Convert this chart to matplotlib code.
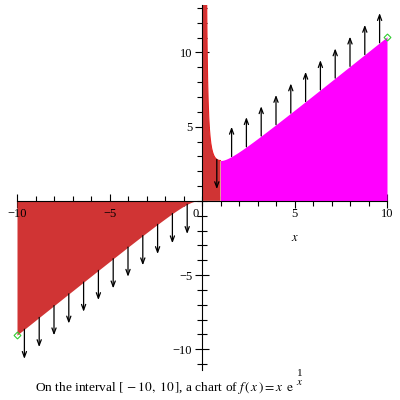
import numpy as np
import matplotlib
matplotlib.use('Agg')
import matplotlib.pyplot as plt

# chart of f(x) = x*exp(1/x) on [-10, 10]
x_min, x_max = -10, 10
split_x = 1.0          # red part ends, magenta part starts
arrow_x = [-9.6, -8.8, -8.0, -7.2, -6.4, -5.6, -4.8, -4.0, -3.2, -2.4, -1.6, -0.8,
           0.8, 1.6, 2.4, 3.2, 4.0, 4.8, 5.6, 6.4, 7.2, 8.0, 8.8, 9.6]
arrow_dir = [-1] * 13 + [1] * 11
arrow_len = 2.0
x_ticks = [-10, -5, 5, 10]
x_labels = ['\u221210', '\u22125', '5', '10']
y_ticks = [-10, -5, 5, 10]
y_labels = ['\u221210', '\u22125', '5', '10']


def f(x):
    return x * np.exp(1.0 / x)


plt.rcParams['font.family'] = ['Liberation Serif', 'DejaVu Serif']
plt.rcParams['mathtext.fontset'] = 'stix'

fig = plt.figure(figsize=(4, 4), dpi=100)
ax = fig.add_axes([17 / 400, 30 / 400, 370 / 400, 365 / 400])
ax.set_xlim(x_min, x_max)
ax.set_ylim(-11.4, 13.2)

red = '#d03434'
mag = '#ff00ff'

xl = np.linspace(x_min, -0.001, 400)
ax.fill_between(xl, f(xl), 0, color=red, lw=0, zorder=3)
xr = np.concatenate([[0.0], np.linspace(0.12, split_x, 300)])
yr = np.concatenate([[600.0], f(xr[1:])])
ax.fill_between(xr, yr, 0, color=red, lw=0, zorder=3)
ax.plot(xr[1:], yr[1:], color='#e82020', lw=0.8, zorder=3)
xm = np.linspace(split_x, x_max, 300)
ax.fill_between(xm, f(xm), 0, color=mag, lw=0, zorder=3)

for xa, d in zip(arrow_x, arrow_dir):
    y0 = f(xa)
    ax.annotate('', xy=(xa, y0 + d * arrow_len), xytext=(xa, y0),
                arrowprops=dict(arrowstyle='->,head_length=0.4,head_width=0.15',
                                color='black', lw=0.9, shrinkA=0, shrinkB=0),
                zorder=5)

ax.plot([x_min, x_max], [f(x_min), f(x_max)], linestyle='none', marker='D',
        markersize=3.5, markerfacecolor='none', markeredgecolor='#33cc33',
        markeredgewidth=0.8, zorder=6, clip_on=False)

# axes through the origin
for s in ['top', 'right']:
    ax.spines[s].set_visible(False)
ax.spines['left'].set_position(('data', 0))
ax.spines['bottom'].set_position(('data', 0))
ax.spines['left'].set_zorder(4)
ax.spines['bottom'].set_zorder(4)
ax.set_xticks(x_ticks)
ax.set_xticklabels([])
ax.set_yticks(y_ticks)
ax.set_yticklabels(y_labels)
ax.set_xticks(np.arange(-10, 11, 1), minor=True)
ax.set_yticks(np.arange(-11, 14, 1), minor=True)
ax.tick_params(which='major', direction='inout', length=10, width=0.8,
               labelsize=9, pad=2)
ax.tick_params(which='minor', direction='inout', length=7, width=0.8)
for xt, lab in zip(x_ticks, x_labels):
    ax.text(xt, -0.45, lab, ha='center', va='top', fontsize=9, zorder=7,
            clip_on=False)
ax.text(-0.35, -0.45, '0', ha='center', va='top', fontsize=9, zorder=7)
ax.text(5, -2.1, '$x$', ha='center', va='top', fontsize=9)

# caption with a stacked 1/x exponent
cap = fig.text(35 / 400, 9 / 400,
               r'On the interval $[\,-10,\ 10\,]$, a chart of $f\,(\,x\,) = x\ \,\mathrm{e}$',
               ha='left', va='baseline', fontsize=9.6)
fig.canvas.draw()
bb = cap.get_window_extent(fig.canvas.get_renderer())
ex = (bb.x1 + 5) / 400
fig.text(ex, 24 / 400, '1', ha='center', va='baseline', fontsize=8)
fig.text(ex, 15 / 400, '$x$', ha='center', va='baseline', fontsize=8)

fig.savefig('out.png', dpi=100)
